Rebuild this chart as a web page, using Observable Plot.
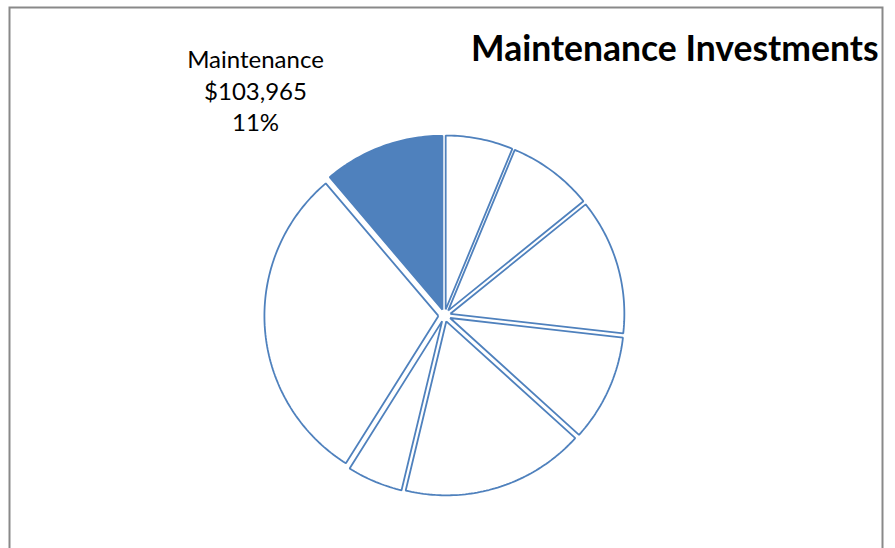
<!DOCTYPE html>
<html><head><meta charset="utf-8">
<script src="https://cdn.jsdelivr.net/npm/d3@7"></script>
<script src="https://cdn.jsdelivr.net/npm/@observablehq/plot@0.6"></script>
<style>body{margin:0;background:#fff;} #chart svg{display:block;overflow:visible}</style>
</head><body><div id="chart"></div>
<script>
// Data (clockwise from 12 o'clock); only "Maintenance" is labelled in the reference
const categories = ["Category 1", "Category 2", "Category 3", "Category 4", "Category 5", "Category 6", "Category 7", "Maintenance"];
const values = [58000, 73500, 117000, 92000, 158000, 48000, 277000, 103965];
const highlight = "Maintenance";
const title = "Maintenance Investments";

const total = d3.sum(values);
const arcs = d3.pie().sort(null).value(d => d)(values);
const explode = 0.035;
const pts = [];
arcs.forEach((a, i) => {
  const cat = categories[i];
  const mid = (a.startAngle + a.endAngle) / 2;
  const ox = explode * Math.sin(mid), oy = explode * Math.cos(mid);
  pts.push({cat, x: ox, y: oy});
  const n = Math.max(2, Math.ceil((a.endAngle - a.startAngle) / (Math.PI / 180)));
  for (let k = 0; k <= n; k++) {
    const t = a.startAngle + (a.endAngle - a.startAngle) * k / n;
    pts.push({cat, x: ox + Math.sin(t), y: oy + Math.cos(t)});
  }
  pts.push({cat, x: ox, y: oy});
});
const hi = categories.indexOf(highlight);
const labelText = `${highlight}\n$${d3.format(",")(values[hi])}\n${d3.format(".0%")(values[hi] / total)}`;

const W = 895, H = 548, cx = 444, cy = 315, R = 174;
const blue = "#4F81BD";
const chart = Plot.plot({
  width: W, height: H, margin: 0,
  x: {domain: [-cx / R, (W - cx) / R], axis: null},
  y: {domain: [(cy - H) / R, cy / R], axis: null},
  style: {background: "white"},
  marks: [
    Plot.frame({stroke: "#898989", strokeWidth: 2, insetLeft: 9, insetTop: 7, insetRight: 13, insetBottom: -10}),
    Plot.line(pts.filter(d => d.cat !== highlight), {x: "x", y: "y", z: "cat", fill: "white", stroke: blue, strokeWidth: 1.8, strokeLinejoin: "miter", strokeLinecap: "butt"}),
    Plot.line(pts.filter(d => d.cat === highlight), {x: "x", y: "y", z: "cat", fill: blue, stroke: blue, strokeWidth: 1.8, strokeLinejoin: "miter", strokeLinecap: "butt"}),
    Plot.text([title], {frameAnchor: "top-right", text: d => d, dx: -17, dy: 60, lineAnchor: "bottom", textAnchor: "end", fontSize: 35.5, fontWeight: "bold", fontFamily: "Lato", fill: "black"}),
    Plot.text([labelText], {frameAnchor: "top-left", text: d => d, dx: 255, dy: 45, lineAnchor: "top", textAnchor: "middle", fontSize: 24, lineHeight: 1.32, fontFamily: "Lato", fill: "black"})
  ]
});
document.getElementById("chart").appendChild(chart);
</script>
</body></html>
